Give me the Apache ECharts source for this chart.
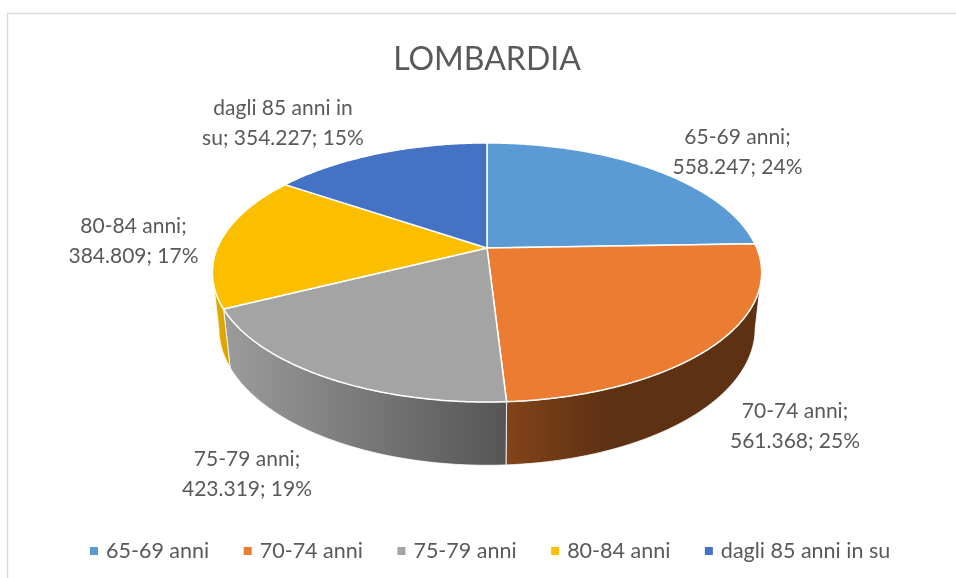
<!DOCTYPE html>
<html>
<head>
<meta charset="utf-8">
<script src="https://cdn.jsdelivr.net/npm/echarts@6/dist/echarts.min.js"></script>
<style>html,body{margin:0;padding:0;background:#fff}#c{width:956px;height:578px}</style>
</head>
<body>
<div id="c"></div>
<script>
var categories = ['65-69 anni', '70-74 anni', '75-79 anni', '80-84 anni', 'dagli 85 anni in su'];
var values = [558247, 561368, 423319, 384809, 354227];
var labelLines = [
  ['65-69 anni;', '558.247; 24%'],
  ['70-74 anni;', '561.368; 25%'],
  ['75-79 anni;', '423.319; 19%'],
  ['80-84 anni;', '384.809; 17%'],
  ['dagli 85 anni in', 'su; 354.227; 15%']
];
var colors = ['#5B9BD5', '#EB7C31', '#A4A4A4', '#FBBF00', '#4472C4'];

// layout
var cx = 487, cy = 248, A = 269.7, B = 124.9, P = 0.189, Q = -0.0235, C = 56.4;
var labelAnchors = [[737.5, 152], [795, 426.5], [247, 474.5], [133.5, 241], [283, 123]];
var wallStops = [
  [[0, '#3f6d96'], [1, '#3f6d96']],
  [[0, '#82441A'], [0.38, '#5F3113'], [1, '#5F3113']],
  [[0, '#9C9C9C'], [1, '#555555']],
  [[0, '#E3AC00'], [1, '#D9A300']],
  [[0, '#2f5597'], [1, '#2f5597']]
];
// Only the front of the drum is drawn: the wall folds out of sight at these angles.
var wallFrom = Math.PI - Math.acos(P), wallTo = Math.PI + Math.acos(P);

var total = values.reduce(function (a, b) { return a + b; }, 0);

function project(theta, z) {
  var u = Math.sin(theta), v = Math.cos(theta);
  var w = 1 + P * v + Q * z;
  return [cx + A * u / w, cy - (B * v + C * z) / w];
}
function rim(a0, a1, z) {
  var n = Math.max(2, Math.ceil((a1 - a0) / 0.01)), pts = [];
  for (var i = 0; i <= n; i++) pts.push(project(a0 + (a1 - a0) * i / n, z));
  return pts;
}

function makeRender(idx) {
  return function (params, api) {
    var val = api.value(0), before = 0;
    for (var i = 0; i < idx; i++) before += values[i];
    var a0 = before / total * Math.PI * 2;
    var a1 = (before + val) / total * Math.PI * 2;
    var kids = [];
    var w0 = Math.max(a0, wallFrom), w1 = Math.min(a1, wallTo);
    if (w1 > w0) {
      var wallTop = rim(w0, w1, 0);
      var wallBottom = rim(w0, w1, -1).reverse();
      var outline = wallTop.concat(wallBottom);
      var xs = outline.map(function (p) { return p[0]; });
      var wallFill = new echarts.graphic.LinearGradient(
        Math.min.apply(null, xs), 0, Math.max.apply(null, xs), 0,
        wallStops[idx].map(function (s) { return { offset: s[0], color: s[1] }; }), true);
      kids.push({ type: 'polygon', z2: 5, shape: { points: outline }, silent: true,
        style: { fill: wallFill, stroke: '#ffffff', lineWidth: 0.8 } });
    }
    kids.push({ type: 'polygon', z2: 20, shape: { points: [[cx, cy]].concat(rim(a0, a1, 0)) }, silent: true,
      style: { fill: colors[idx], stroke: '#ffffff', lineWidth: 1.5, lineJoin: 'round' } });
    kids.push({ type: 'text', z2: 30, x: labelAnchors[idx][0], y: labelAnchors[idx][1], silent: true,
      style: { text: labelLines[idx].join('\n'), fill: '#595959', font: '21px Lato', lineHeight: 30,
        align: 'center', verticalAlign: 'middle' } });
    return { type: 'group', children: kids };
  };
}

var chart = echarts.init(document.getElementById('c'), null, { renderer: 'canvas' });
chart.setOption({
  animation: false,
  backgroundColor: '#ffffff',
  title: {
    text: 'LOMBARDIA', left: 482, textAlign: 'center', top: 39,
    textStyle: { color: '#595959', fontFamily: 'Lato', fontSize: 32, fontWeight: 'normal' }
  },
  legend: {
    data: categories, left: 85, top: 535, icon: 'rect', itemWidth: 8, itemHeight: 8,
    itemGap: 34.5, selectedMode: false,
    textStyle: { color: '#595959', fontFamily: 'Lato', fontSize: 21.5, padding: [0, 0, 0, 3] }
  },
  graphic: [{
    type: 'polyline', silent: true, z: -1,
    shape: { points: [[7.5, 578], [7.5, 13.5], [956, 13.5]] },
    style: { stroke: '#D9D9D9', lineWidth: 1.5, fill: null }
  }],
  series: categories.map(function (name, i) {
    return {
      type: 'custom', name: name, coordinateSystem: 'none',
      itemStyle: { color: colors[i] },
      data: [[values[i]]],
      renderItem: makeRender(i)
    };
  })
});
</script>
</body>
</html>
